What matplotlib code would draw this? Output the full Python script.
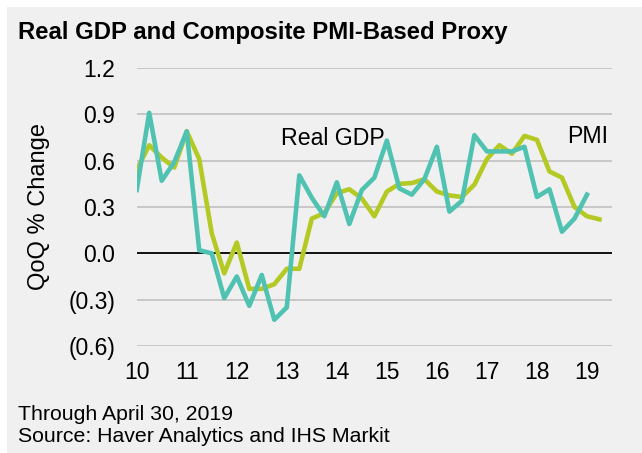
import numpy as np
import matplotlib
matplotlib.use("Agg")
from matplotlib import pyplot as plt
from matplotlib.patches import Rectangle

plt.rcParams['font.family'] = ['Liberation Sans', 'DejaVu Sans']

# quarterly QoQ % change, 2010Q1 onward
real_gdp = [0.41, 0.91, 0.47, 0.59, 0.79, 0.02, 0.00, -0.29, -0.15, -0.34,
            -0.14, -0.43, -0.35, 0.505, 0.36, 0.24, 0.46, 0.19, 0.41, 0.49,
            0.73, 0.42, 0.38, 0.48, 0.69, 0.27, 0.34, 0.765, 0.66, 0.66,
            0.66, 0.69, 0.365, 0.415, 0.14, 0.225, 0.38]
pmi_proxy = [0.54, 0.70, 0.62, 0.555, 0.79, 0.61, 0.13, -0.13, 0.07, -0.23,
             -0.23, -0.20, -0.10, -0.10, 0.225, 0.26, 0.39, 0.415, 0.355, 0.24,
             0.40, 0.45, 0.455, 0.48, 0.40, 0.375, 0.365, 0.445, 0.61, 0.70,
             0.645, 0.76, 0.735, 0.53, 0.49, 0.30, 0.24, 0.22]
year_labels = ['10', '11', '12', '13', '14', '15', '16', '17', '18', '19']
y_ticks = [-0.6, -0.3, 0.0, 0.3, 0.6, 0.9, 1.2]
y_tick_labels = ['(0.6)', '(0.3)', '0.0', '0.3', '0.6', '0.9', '1.2']

W, H = 642, 453
fig = plt.figure(figsize=(W / 100, H / 100), dpi=100)
fig.patch.set_facecolor('white')
fig.patches.append(Rectangle((7 / W, 0), 1, 1 - 7 / H, transform=fig.transFigure,
                             facecolor='#f0f0f0', edgecolor='none', zorder=-10))

ax = fig.add_axes([136.7 / W, 1 - 346 / H, (612 - 136.7) / W, (346 - 68) / H])
ax.set_facecolor('none')

x_gdp = np.arange(len(real_gdp))
x_pmi = np.arange(len(pmi_proxy))

for yv in y_ticks:
    if yv != 0:
        ax.axhline(yv, color='#c4c4c4', lw=1.3, zorder=1)
ax.axhline(0, color='black', lw=1.3, zorder=2)

ax.plot(x_pmi, pmi_proxy, color='#b5c924', lw=3.3, solid_joinstyle='round', zorder=3)
ax.plot(x_gdp, real_gdp, color='#4fc2b2', lw=3.3, solid_joinstyle='round', zorder=4)

ax.set_xlim(0, 38)
ax.set_ylim(-0.6, 1.2)
ax.set_yticks(y_ticks)
ax.set_yticklabels(y_tick_labels)
ax.set_xticks(np.arange(0, 40, 4))
ax.set_xticklabels(year_labels)
ax.tick_params(length=0, labelsize=16.5)
ax.tick_params(axis='x', pad=11)
ax.tick_params(axis='y', pad=15.5)
for s in ax.spines.values():
    s.set_visible(False)

ax.set_ylabel('QoQ % Change', fontsize=17)
ax.yaxis.set_label_coords(-0.183, 0.5)

ax.text(11.5, 0.745, 'Real GDP', fontsize=16.7, ha='left', va='center')
ax.text(34.4, 0.755, 'PMI', fontsize=16.7, ha='left', va='center')

fig.text(18 / W, 1 - 32 / H, 'Real GDP and Composite PMI-Based Proxy',
         fontsize=17.2, fontweight='bold', ha='left', va='center')
fig.text(18 / W, 1 - 414 / H, 'Through April 30, 2019', fontsize=15.3,
         ha='left', va='center')
fig.text(18 / W, 1 - 437 / H, 'Source: Haver Analytics and IHS Markit', fontsize=15.3,
         ha='left', va='center')

fig.savefig('out.png', dpi=100, facecolor=fig.get_facecolor())
